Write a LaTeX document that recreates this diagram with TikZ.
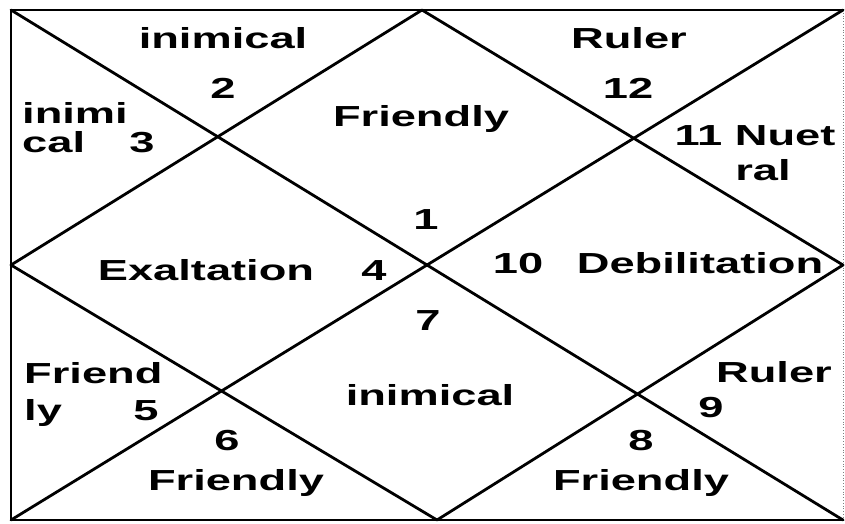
\documentclass[tikz,border=0pt]{standalone}
\usepackage{fontspec}
\setmainfont{Liberation Sans}
\newcommand{\hstr}[1]{\scalebox{1.56}[1]{\bfseries #1}}
\begin{document}
\begin{tikzpicture}[x=1pt,y=-1pt,
  edge/.style={line width=2.8pt,line cap=round,line join=round},
  lbl/.style={font=\fontsize{29}{29}\selectfont,inner sep=0pt,anchor=base},
  lblw/.style={lbl,anchor=base west}]
\useasboundingbox (0,0) rectangle (845,523);
\coordinate (tl) at (11,10);
\coordinate (tr) at (843,10);
\coordinate (br) at (843,520);
\coordinate (bl) at (11,520);
\coordinate (mt) at (422,10);
\coordinate (mr) at (843,265);
\coordinate (mb) at (437,520);
\coordinate (ml) at (11,265);
% frame
\draw[edge] (tr) -- (tl) -- (bl) -- (br);
\draw[line width=0.8pt,gray,dotted] (tr) -- (br);
% diagonals
\draw[edge] (tl) -- (br);
\draw[edge] (bl) -- (tr);
% diamond
\draw[edge] (mt) -- (mr) -- (mb) -- (ml) -- cycle;
% labels
\node[lbl] (t2) at (223,48) {\hstr{inimical}};
\node[lbl] (n2) at (223,98) {\hstr{2}};
\node[lblw] (t3a) at (22,123) {\hstr{inimi}};
\node[lblw] (t3b) at (22,152) {\hstr{cal}};
\node[lbl] (n3) at (142,152) {\hstr{3}};
\node[lbl] (t1) at (421,126) {\hstr{Friendly}};
\node[lbl] (n1) at (426,229) {\hstr{1}};
\node[lbl] (t12) at (629,48) {\hstr{Ruler}};
\node[lbl] (n12) at (628,98) {\hstr{12}};
\node[lbl] (t11a) at (755,145) {\hstr{11 Nuet}};
\node[lbl] (t11b) at (763,180) {\hstr{ral}};
\node[lbl] (t4) at (206,280) {\hstr{Exaltation}};
\node[lbl] (n4) at (374,280) {\hstr{4}};
\node[lbl] (n10) at (518,273) {\hstr{10}};
\node[lbl] (t10) at (700,273) {\hstr{Debilitation}};
\node[lbl] (n7) at (428,330) {\hstr{7}};
\node[lbl] (t7) at (430,405) {\hstr{inimical}};
\node[lblw] (t5a) at (24,383) {\hstr{Friend}};
\node[lblw] (t5b) at (24,420) {\hstr{ly}};
\node[lbl] (n5) at (146,420) {\hstr{5}};
\node[lbl] (n6) at (227,450) {\hstr{6}};
\node[lbl] (t6) at (236,490) {\hstr{Friendly}};
\node[lbl] (t9) at (774,382) {\hstr{Ruler}};
\node[lbl] (n9) at (711,417) {\hstr{9}};
\node[lbl] (n8) at (641,450) {\hstr{8}};
\node[lbl] (t8) at (641,490) {\hstr{Friendly}};
\end{tikzpicture}
\end{document}
